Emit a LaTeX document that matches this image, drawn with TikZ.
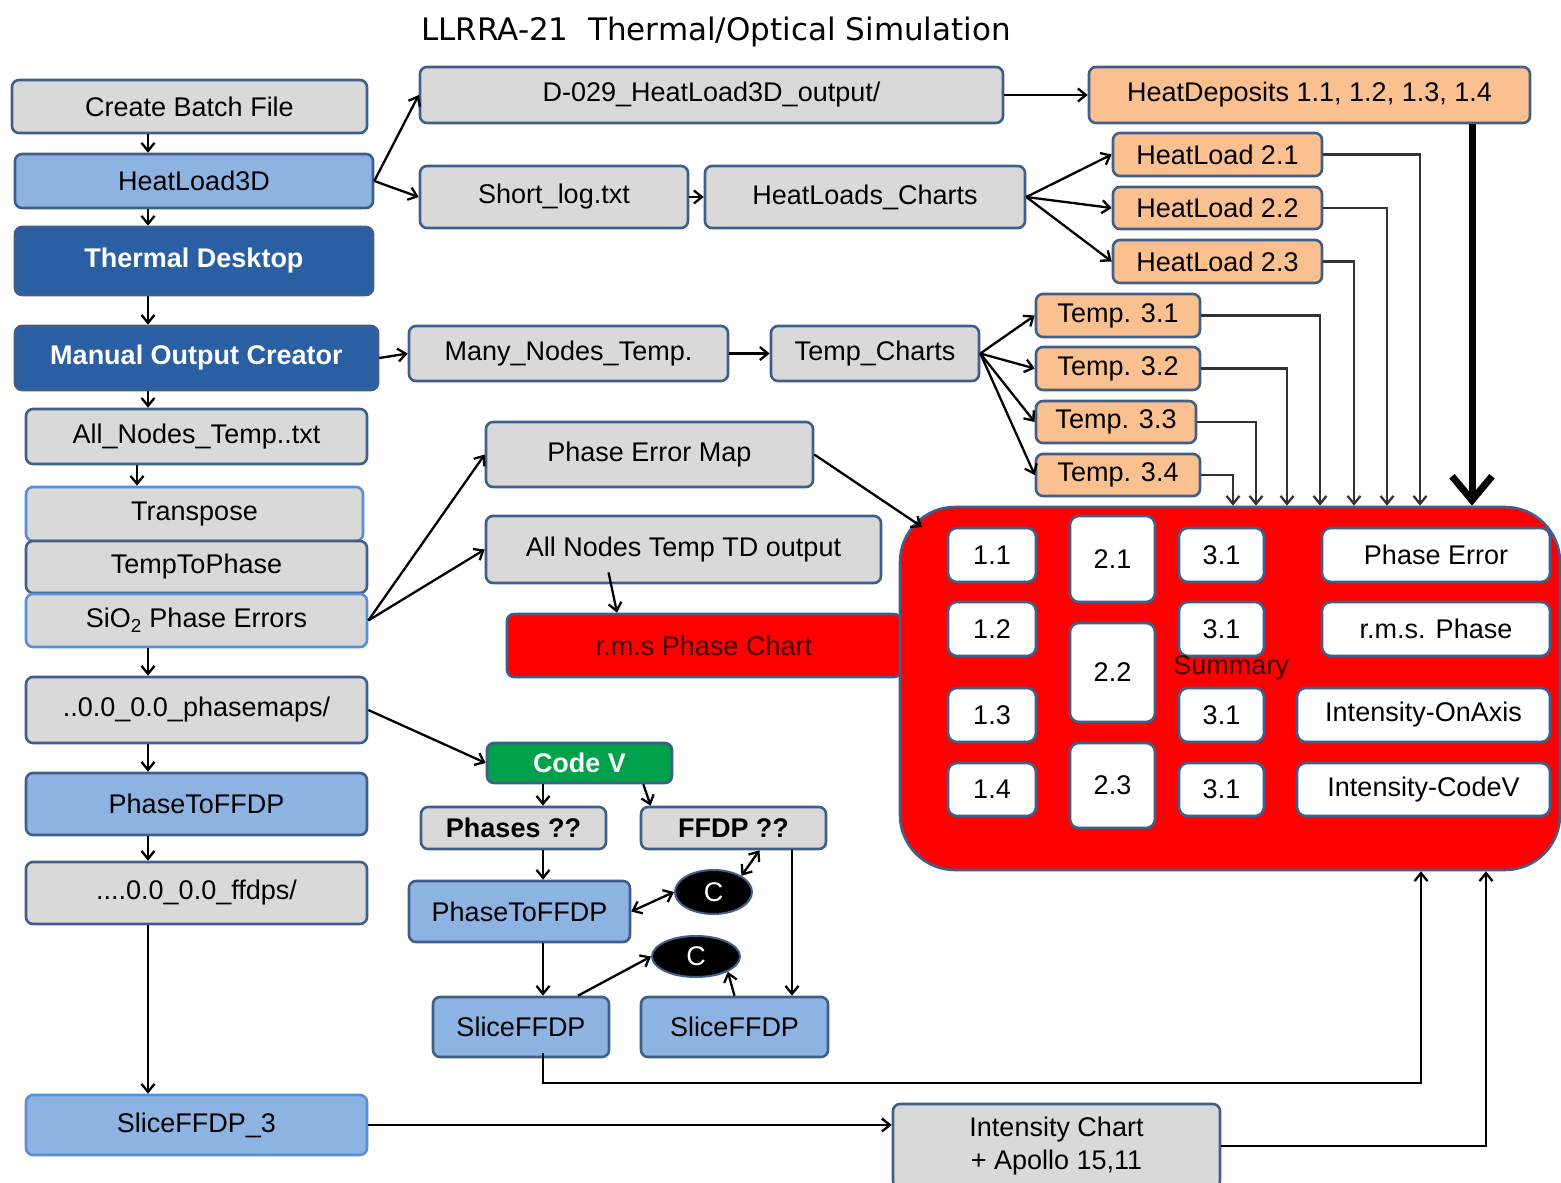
\documentclass[tikz,border=0pt]{standalone}
\usepackage{fontspec}
\setmainfont{Liberation Sans}
\newfontfamily\titlefont{DejaVu Sans}
\usetikzlibrary{shapes.geometric, arrows.meta, calc}
\definecolor{cGrey}{RGB}{217,217,217}
\definecolor{cEdge}{RGB}{63,95,138}
\definecolor{cEdgeLt}{RGB}{90,143,214}
\definecolor{cSky}{RGB}{141,179,226}
\definecolor{cNavy}{RGB}{43,95,164}
\definecolor{cPeach}{RGB}{250,192,144}
\definecolor{cRed}{RGB}{255,0,0}
\definecolor{cGreen}{RGB}{0,161,75}
\definecolor{cMaroon}{RGB}{60,0,0}
\newcommand{\boxsize}{\fontsize{27}{33}\selectfont}
\tikzset{
	box/.style     ={rectangle, rounded corners=7pt, draw=cEdge, line width=2.6pt, inner sep=0pt, align=center, font=\boxsize},
	filebox/.style ={box, fill=cGrey},
	progbox/.style ={box, fill=cSky},
	toolbox/.style ={box, fill=cNavy, text=white, font=\boxsize\bfseries},
	chartbox/.style={box, fill=cPeach},
	cellbox/.style ={box, fill=white, rounded corners=9pt},
	codebox/.style ={box, fill=cGreen, text=white, font=\boxsize\bfseries},
	cnode/.style   ={ellipse, draw=cEdge, line width=2pt, fill=black, text=white, inner sep=0pt, font=\boxsize},
	lt/.style      ={draw=cEdgeLt},
	wh/.style 2 args={minimum width=#1pt, minimum height=#2pt},
	link/.style    ={->, line width=2.3pt},
	feed/.style    ={->, line width=2.3pt, black!80},
	bigfeed/.style ={-{Straight Barb[length=24pt,width=40pt]}, line width=7pt},
}

\begin{document}
\begin{tikzpicture}[x=1pt, y=-1pt, >={Straight Barb[length=8pt,width=13pt]}]
	\useasboundingbox (0,0) rectangle (1561,1183);
	\node[font=\titlefont\fontsize{31}{36}\selectfont] (title) at (716,32) {LLRRA-21\ \ Thermal/Optical Simulation};

	% left column
	\node[filebox, wh={355}{53}] (cbf) at (189.5,106.5) {Create Batch File};
	\node[progbox, wh={358}{54}] (hl3d) at (194,181) {HeatLoad3D};
	\node[toolbox, wh={358}{68}] (td) at (194,261) {Thermal Desktop};
	\node[toolbox, wh={363}{64}] (moc) at (196.5,358) {Manual Output Creator};
	\node[filebox, wh={341}{55}] (ant) at (196.5,436.5) {All\_Nodes\_Temp..txt};
	\node[filebox, lt, wh={337}{54}] (tp) at (194.5,514) {Transpose};
	\node[filebox, wh={341}{52}] (t2p) at (196.5,567) {TempToPhase};
	\node[filebox, lt, wh={341}{53}] (sio) at (196.5,620.5) {SiO\textsubscript{2} Phase Errors};
	\node[filebox, wh={341}{66}] (pmaps) at (196.5,710) {..0.0\_0.0\_phasemaps/};
	\node[progbox, wh={341}{62}] (p2f) at (196.5,804) {PhaseToFFDP};
	\node[filebox, wh={341}{62}] (ffd) at (196.5,893) {....0.0\_0.0\_ffdps/};
	\node[progbox, lt, wh={341}{60}] (sf3) at (196.5,1125) {SliceFFDP\_3};

	% heat load branch
	\node[filebox, wh={583}{56}] (out3d) at (711.5,95) {D-029\_HeatLoad3D\_output/};
	\node[filebox, wh={268}{62}] (slog) at (554,197) {Short\_log.txt};
	\node[filebox, wh={320}{62}] (hlc) at (865,197) {HeatLoads\_Charts};
	\node[chartbox, wh={441}{56}] (hdep) at (1309.5,95) {HeatDeposits 1.1, 1.2, 1.3, 1.4};
	\node[chartbox, wh={209}{43}] (hl21) at (1217.5,154.5) {HeatLoad 2.1};
	\node[chartbox, wh={209}{42}] (hl22) at (1217.5,208) {HeatLoad 2.2};
	\node[chartbox, wh={209}{43}] (hl23) at (1217.5,261.5) {HeatLoad 2.3};

	% temperature branch
	\node[filebox, wh={319}{55}] (mnt) at (568.5,353.5) {Many\_Nodes\_Temp.};
	\node[filebox, wh={208}{55}] (tch) at (875,353.5) {Temp\_Charts};
	\node[chartbox, wh={164}{43}] (tc31) at (1118,315.5) {Temp. 3.1};
	\node[chartbox, wh={164}{43}] (tc32) at (1118,368.5) {Temp. 3.2};
	\node[chartbox, wh={160}{42}] (tc33) at (1116,422) {Temp. 3.3};
	\node[chartbox, wh={164}{42}] (tc34) at (1118,475) {Temp. 3.4};

	% phase branch
	\node[filebox, wh={327}{65}] (pem) at (649.5,454.5) {Phase Error Map};
	\node[filebox, wh={395}{67}] (antd) at (683.5,549.5) {All Nodes Temp TD output};
	\node[box, fill=cRed, text=cMaroon, wh={394}{63}] (rms) at (704,645.5) {r.m.s Phase Chart};

	% summary panel
	\node[box, fill=cRed, rounded corners=55pt, wh={660}{363}] (summ) at (1230,688.5) {};
	\node[cellbox, wh={88}{54}] (c11) at (992,555) {1.1};
	\node[cellbox, wh={88}{54}] (c12) at (992,629) {1.2};
	\node[cellbox, wh={88}{54}] (c13) at (992,715) {1.3};
	\node[cellbox, wh={88}{53}] (c14) at (992,789.5) {1.4};
	\node[cellbox, wh={85}{86}] (c21) at (1112.5,559) {2.1};
	\node[cellbox, wh={85}{99}] (c22) at (1112.5,672.5) {2.2};
	\node[cellbox, wh={85}{85}] (c23) at (1112.5,785.5) {2.3};
	\node[cellbox, wh={85}{54}] (c31a) at (1221.5,555) {3.1};
	\node[cellbox, wh={85}{54}] (c31b) at (1221.5,629) {3.1};
	\node[cellbox, wh={85}{54}] (c31c) at (1221.5,715) {3.1};
	\node[cellbox, wh={85}{53}] (c31d) at (1221.5,789.5) {3.1};
	\node[cellbox, wh={228}{54}] (pe) at (1436,555) {Phase Error};
	\node[cellbox, wh={228}{54}] (rmsp) at (1436,629) {r.m.s. Phase};
	\node[cellbox, wh={253}{54}] (ioa) at (1423.5,715) {Intensity-OnAxis};
	\node[cellbox, wh={253}{53}] (icv) at (1423.5,789.5) {Intensity-CodeV};
	\node[text=cMaroon, font=\boxsize] (sumlbl) at (1231,668) {Summary};

	% code v branch
	\node[codebox, wh={185}{40}] (cv) at (579.5,763) {Code V};
	\node[filebox, font=\boxsize\bfseries, wh={185}{42}] (phq) at (513.5,828) {Phases ??};
	\node[filebox, font=\boxsize\bfseries, wh={185}{42}] (ffq) at (733.5,828) {FFDP ??};
	\node[progbox, wh={221}{61}] (p2fb) at (519.5,911.5) {PhaseToFFDP};
	\node[cnode, minimum width=77pt, minimum height=44pt] (ca) at (713.5,892) {C};
	\node[cnode, minimum width=88pt, minimum height=41pt] (cb) at (696,956.5) {C};
	\node[progbox, wh={176}{60}] (sfa) at (521,1027) {SliceFFDP};
	\node[progbox, wh={187}{60}] (sfb) at (734.5,1027) {SliceFFDP};
	\node[filebox, wh={327}{84}] (ich) at (1056.5,1146) {Intensity Chart\\+ Apollo 15,11};

	\coordinate (spine) at (148,0);
	\coordinate (spine2) at (137,0);
	\coordinate (midspine) at (543,0);
	\coordinate (rspine) at (792,0);
	\coordinate (summin) at (922,527);
	\coordinate (lowbus) at (1421,1083);
	\coordinate (rbus) at (1486,0);

	% connectors
	\foreach \a/\b in {cbf/hl3d, hl3d/td, td/moc, moc/ant, sio/pmaps, pmaps/p2f, p2f/ffd, ffd/sf3}
		\draw[link] (\a.south -| spine) -- (\b.north -| spine);
	\draw[link] (ant.south -| spine2) -- (tp.north -| spine2);
	\draw[link] (hl3d.east) -- (out3d.west);
	\draw[link] (hl3d.east) -- (slog.west);
	\draw[link] (out3d.east) -- (hdep.west);
	\draw[link] (slog.east) -- (hlc.west);
	\foreach \t in {hl21, hl22, hl23}
		\draw[link] (hlc.east) -- (\t.west);
	\draw[link] (moc.east) -- (mnt.west);
	\draw[link] (mnt.east) -- (tch.west);
	\foreach \t in {tc31, tc32, tc33, tc34}
		\draw[link] (tch.east) -- (\t.west);
	\draw[link] (sio.east) -- (pem.west);
	\draw[link] (sio.east) -- (antd.west);
	\draw[link] (pem.east) -- (summin);
	\draw[link] ($(antd.south)+(-75,-12)$) -- ($(rms.north)+(-87,0)$);

	% feeders into the summary panel
	\foreach \s/\xx in {hl21/1420, hl22/1387, hl23/1354, tc31/1320, tc32/1287, tc33/1256, tc34/1233}
		\draw[feed] (\s.east) -| (\xx,0 |- summ.north);
	\draw[bigfeed] (hdep.south -| 1472,0) -- (1472,0 |- summ.north);

	% code v connectors
	\draw[link] (pmaps.east) -- (cv.west);
	\draw[link] (cv.south -| midspine) -- (phq.north -| midspine);
	\draw[link] ($(cv.south east)+(-30,0)$) -- ($(ffq.north west)+(11,0)$);
	\draw[link] (phq.south -| midspine) -- (p2fb.north -| midspine);
	\draw[link] (p2fb.south -| midspine) -- (sfa.north -| midspine);
	\draw[link] (ffq.south -| rspine) -- (sfb.north -| rspine);
	\draw[<->, line width=2.3pt] ($(ffq.south)+(26,0)$) -- (ca.north east);
	\draw[<->, line width=2.3pt] (p2fb.east) -- (ca.west);
	\draw[link] ($(sfa.north)+(57,0)$) -- (cb.west);
	\draw[link] (sfb.north) -- (cb.south east);
	\draw[link] ($(sfa.south -| midspine)+(0,-5)$) |- (lowbus) -- (lowbus |- summ.south);
	\draw[link] (sf3.east) -- (sf3.east -| ich.west);
	\draw[link] (ich.east) -| (rbus |- summ.south);
\end{tikzpicture}
\end{document}
